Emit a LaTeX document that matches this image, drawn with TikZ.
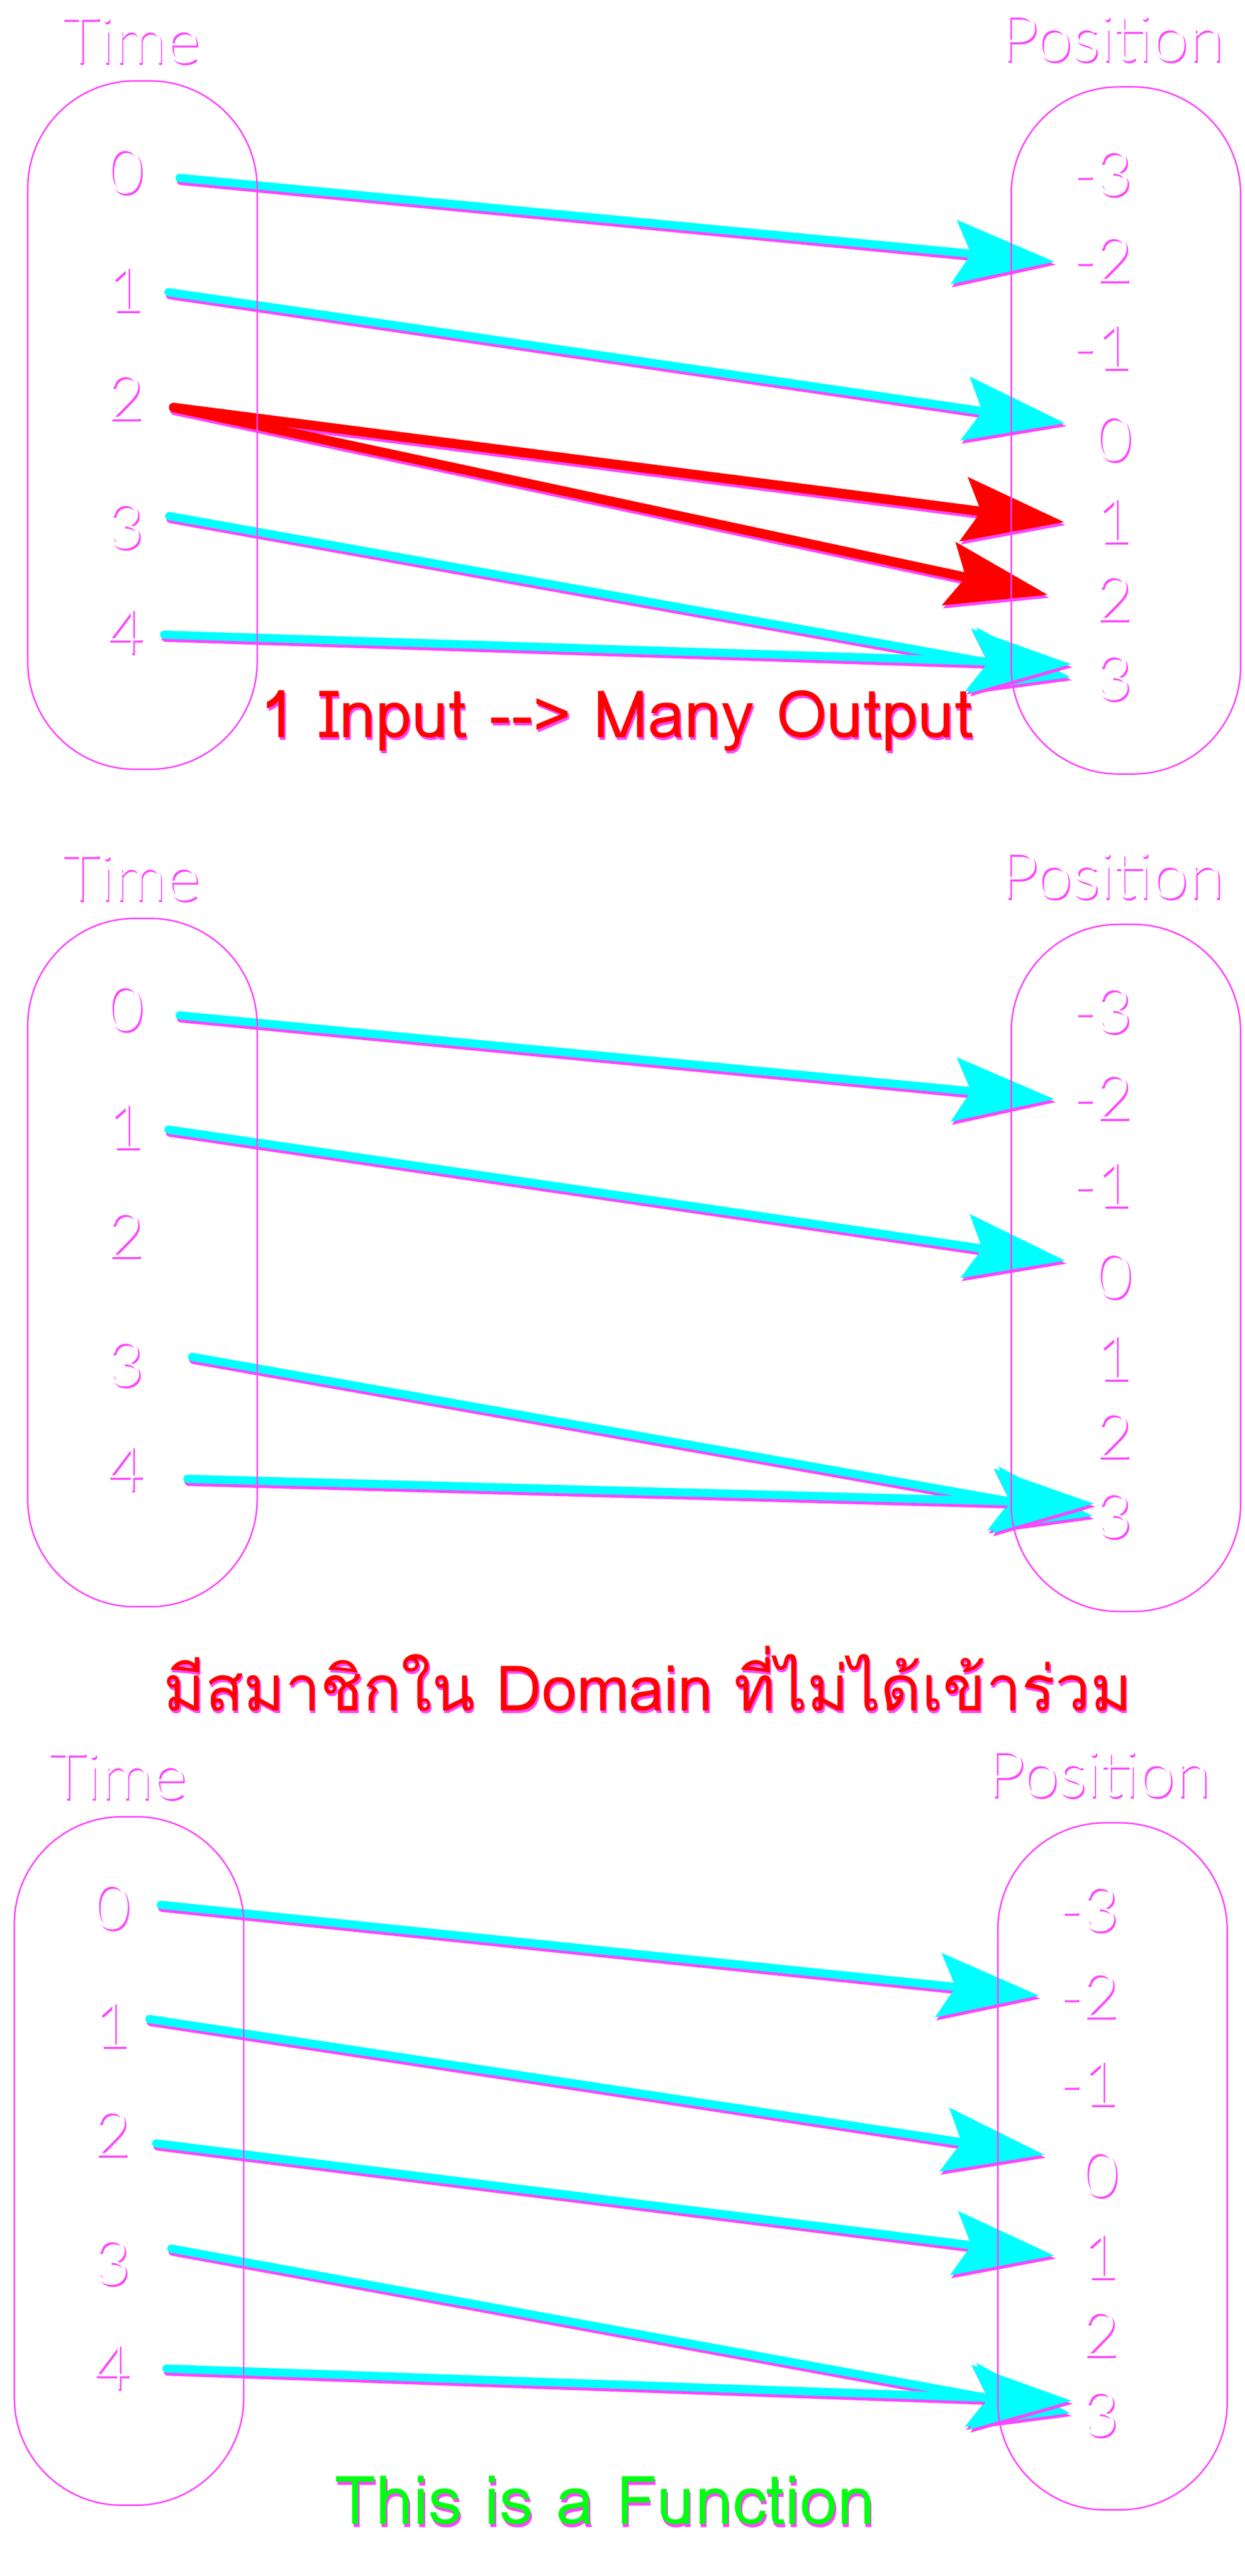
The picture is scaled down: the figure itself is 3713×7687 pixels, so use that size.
\documentclass[tikz,border=0pt]{standalone}
\usepackage{fontspec}
\usepackage{tikz}
\usetikzlibrary{arrows.meta}
\usepackage{xcolor}

\newfontfamily\fontefina{Lato Light}
\newfontfamily\fontethai[Script=Thai]{Loma}
\definecolor{corsombra}{HTML}{FF44FF}
\definecolor{ciano}{HTML}{00FFFF}
\definecolor{vermelho}{HTML}{FF0000}
\definecolor{verde}{HTML}{00FF10}
\newcommand{\comsombra}[2][0.06cm]{\rlap{\kern0.04cm\raisebox{-#1}{\textcolor{corsombra}{#2}}}#2} %texto com sombra magenta

\begin{document}
\begin{tikzpicture}[x=0.01cm, y=-0.01cm,
  rotulo/.style={text=white, font=\fontefina\fontsize{55}{60}\selectfont, inner sep=0pt, anchor=base},
  numero/.style={text=white, font=\fontefina\fontsize{53}{58}\selectfont, inner sep=0pt},
  numdir/.style={numero, anchor=east},
  legenda/.style={font=\fontethai\fontsize{56}{64}\selectfont, inner sep=0pt, anchor=base},
  caixa/.style={draw=corsombra, line width=1.3pt, rounded corners=3.2cm, minimum width=6.84cm, inner sep=0pt},
  seta/.style={ciano, line width=7pt, line cap=round, -{Stealth[length=3cm, width=1.9cm, inset=0.5cm]}},
  setavermelha/.style={seta, vermelho, line width=8pt},
  sombreada/.style={corsombra, transform canvas={shift={(0.04cm,-0.09cm)}}}] %define os estilos

\useasboundingbox (0,0) rectangle (3713,7687); %tamanho da figura

%----------------------------------------------------
%Quadro 1: uma entrada com duas saidas
%----------------------------------------------------
\node[rotulo] (tempo1) at (391,188) {\comsombra{Time}}; %titulo do dominio
\node[rotulo] (posicao1) at (3318,182) {\comsombra{Position}}; %titulo do contradominio

%valores de Time
\node[numero] (p1t0) at (375,514) {\comsombra{0}};
\node[numero] (p1t1) at (375,866) {\comsombra{1}};
\node[numero] (p1t2) at (375,1189) {\comsombra{2}};
\node[numero] (p1t3) at (375,1574) {\comsombra{3}};
\node[numero] (p1t4) at (375,1887) {\comsombra{4}};

%valores de Position
\node[numdir] (p1pm3) at (3378,520) {\comsombra{-3}};
\node[numdir] (p1pm2) at (3378,777) {\comsombra{-2}};
\node[numdir] (p1pm1) at (3378,1039) {\comsombra{-1}};
\node[numdir] (p1p0) at (3378,1312) {\comsombra{0}};
\node[numdir] (p1p1) at (3378,1556) {\comsombra{1}};
\node[numdir] (p1p2) at (3378,1788) {\comsombra{2}};
\node[numdir] (p1p3) at (3378,2026) {\comsombra{3}};

%pontos de inicio e fim das setas
\coordinate (p1i0) at (536,531); \coordinate (p1f0) at (3146,781);
\coordinate (p1i1) at (503,872); \coordinate (p1f1) at (3178,1263);
\coordinate (p1i2) at (518,1216); \coordinate (p1f2a) at (3175,1558); \coordinate (p1f2b) at (3126,1775);
\coordinate (p1i3) at (505,1540); \coordinate (p1f3) at (3194,2021);
\coordinate (p1i4) at (490,1894); \coordinate (p1f4) at (3196,1982);

\draw[seta, sombreada] (p1i0) -- (p1f0); %sombra da seta 0
\draw[seta] (p1i0) -- (p1f0); %0 vai para -2
\draw[seta, sombreada] (p1i1) -- (p1f1);
\draw[seta] (p1i1) -- (p1f1); %1 vai para 0
\draw[setavermelha, sombreada] (p1i2) -- (p1f2a);
\draw[setavermelha] (p1i2) -- (p1f2a); %2 vai para 1
\draw[setavermelha, sombreada] (p1i2) -- (p1f2b);
\draw[setavermelha] (p1i2) -- (p1f2b); %2 vai tambem para 2
\draw[seta, sombreada] (p1i3) -- (p1f3);
\draw[seta] (p1i3) -- (p1f3); %3 vai para 3
\draw[seta, sombreada] (p1i4) -- (p1f4);
\draw[seta] (p1i4) -- (p1f4); %4 vai para 3

\node[caixa, minimum height=20.53cm] (caixaT1) at (425,1268.5) {}; %caixa do dominio
\node[caixa, minimum height=20.49cm] (caixaP1) at (3359,1284.5) {}; %caixa do contradominio

\node[legenda, text=vermelho, font=\fontethai\fontsize{55.7}{64}\selectfont] (legenda1) at (1840,2201) {\comsombra[0.08cm]{1 Input -\kern0pt-\kern0pt> Many Output}};

%----------------------------------------------------
%Quadro 2: o valor 2 nao tem seta
%----------------------------------------------------
\begin{scope}[shift={(0,2499)}]
\node[rotulo] (tempo2) at (391,188) {\comsombra{Time}};
\node[rotulo] (posicao2) at (3318,182) {\comsombra{Position}};

\node[numero] (p2t0) at (375,514) {\comsombra{0}};
\node[numero] (p2t1) at (375,866) {\comsombra{1}};
\node[numero] (p2t2) at (375,1189) {\comsombra{2}};
\node[numero] (p2t3) at (375,1574) {\comsombra{3}};
\node[numero] (p2t4) at (375,1887) {\comsombra{4}};

\node[numdir] (p2pm3) at (3378,520) {\comsombra{-3}};
\node[numdir] (p2pm2) at (3378,777) {\comsombra{-2}};
\node[numdir] (p2pm1) at (3378,1039) {\comsombra{-1}};
\node[numdir] (p2p0) at (3378,1312) {\comsombra{0}};
\node[numdir] (p2p1) at (3378,1556) {\comsombra{1}};
\node[numdir] (p2p2) at (3378,1788) {\comsombra{2}};
\node[numdir] (p2p3) at (3378,2026) {\comsombra{3}};

\coordinate (p2i0) at (536,531); \coordinate (p2f0) at (3146,781);
\coordinate (p2i1) at (503,872); \coordinate (p2f1) at (3178,1263);
\coordinate (p2i3) at (573,1550); \coordinate (p2f3) at (3260,2025);
\coordinate (p2i4) at (559,1914); \coordinate (p2f4) at (3264,1988);

\draw[seta, sombreada] (p2i0) -- (p2f0);
\draw[seta] (p2i0) -- (p2f0); %0 vai para -2
\draw[seta, sombreada] (p2i1) -- (p2f1);
\draw[seta] (p2i1) -- (p2f1); %1 vai para 0
\draw[seta, sombreada] (p2i3) -- (p2f3);
\draw[seta] (p2i3) -- (p2f3); %3 vai para 3
\draw[seta, sombreada] (p2i4) -- (p2f4);
\draw[seta] (p2i4) -- (p2f4); %4 vai para 3

\node[caixa, minimum height=20.53cm] (caixaT2) at (425,1268.5) {};
\node[caixa, minimum height=20.49cm] (caixaP2) at (3359,1284.5) {};
\end{scope}

\node[legenda, text=vermelho, font=\fontethai\fontsize{53.4}{62}\selectfont] (legenda2) at (1933,5105) {\comsombra[0.08cm]{มีสมาชิกใน Domain ที่ไม่ได้เข้าร่วม}};

%----------------------------------------------------
%Quadro 3: isto e uma funcao
%----------------------------------------------------
\begin{scope}[shift={(-40,5180)}]
\node[rotulo] (tempo3) at (391,188) {\comsombra{Time}};
\node[rotulo] (posicao3) at (3318,182) {\comsombra{Position}};

\node[numero] (p3t0) at (375,514) {\comsombra{0}};
\node[numero] (p3t1) at (375,866) {\comsombra{1}};
\node[numero] (p3t2) at (375,1189) {\comsombra{2}};
\node[numero] (p3t3) at (375,1574) {\comsombra{3}};
\node[numero] (p3t4) at (375,1887) {\comsombra{4}};

\node[numdir] (p3pm3) at (3378,520) {\comsombra{-3}};
\node[numdir] (p3pm2) at (3378,777) {\comsombra{-2}};
\node[numdir] (p3pm1) at (3378,1039) {\comsombra{-1}};
\node[numdir] (p3p0) at (3378,1312) {\comsombra{0}};
\node[numdir] (p3p1) at (3378,1556) {\comsombra{1}};
\node[numdir] (p3p2) at (3378,1788) {\comsombra{2}};
\node[numdir] (p3p3) at (3378,2026) {\comsombra{3}};

\coordinate (p3i0) at (520,504); \coordinate (p3f0) at (3140,775);
\coordinate (p3i1) at (486,845); \coordinate (p3f1) at (3156,1250);
\coordinate (p3i2) at (506,1216); \coordinate (p3f2) at (3186,1551);
\coordinate (p3i3) at (551,1530); \coordinate (p3f3) at (3233,2021);
\coordinate (p3i4) at (537,1888); \coordinate (p3f4) at (3237,1984);

\draw[seta, sombreada] (p3i0) -- (p3f0);
\draw[seta] (p3i0) -- (p3f0); %0 vai para -2
\draw[seta, sombreada] (p3i1) -- (p3f1);
\draw[seta] (p3i1) -- (p3f1); %1 vai para 0
\draw[seta, sombreada] (p3i2) -- (p3f2);
\draw[seta] (p3i2) -- (p3f2); %2 vai para 1
\draw[seta, sombreada] (p3i3) -- (p3f3);
\draw[seta] (p3i3) -- (p3f3); %3 vai para 3
\draw[seta, sombreada] (p3i4) -- (p3f4);
\draw[seta] (p3i4) -- (p3f4); %4 vai para 3

\node[caixa, minimum height=20.53cm] (caixaT3) at (425,1268.5) {};
\node[caixa, minimum height=20.49cm] (caixaP3) at (3359,1284.5) {};
\end{scope}

\node[legenda, text=verde, font=\fontethai\fontsize{57.2}{66}\selectfont] (legenda3) at (1805,7533) {\comsombra[0.08cm]{This is a Function}};

\end{tikzpicture}
\end{document}
